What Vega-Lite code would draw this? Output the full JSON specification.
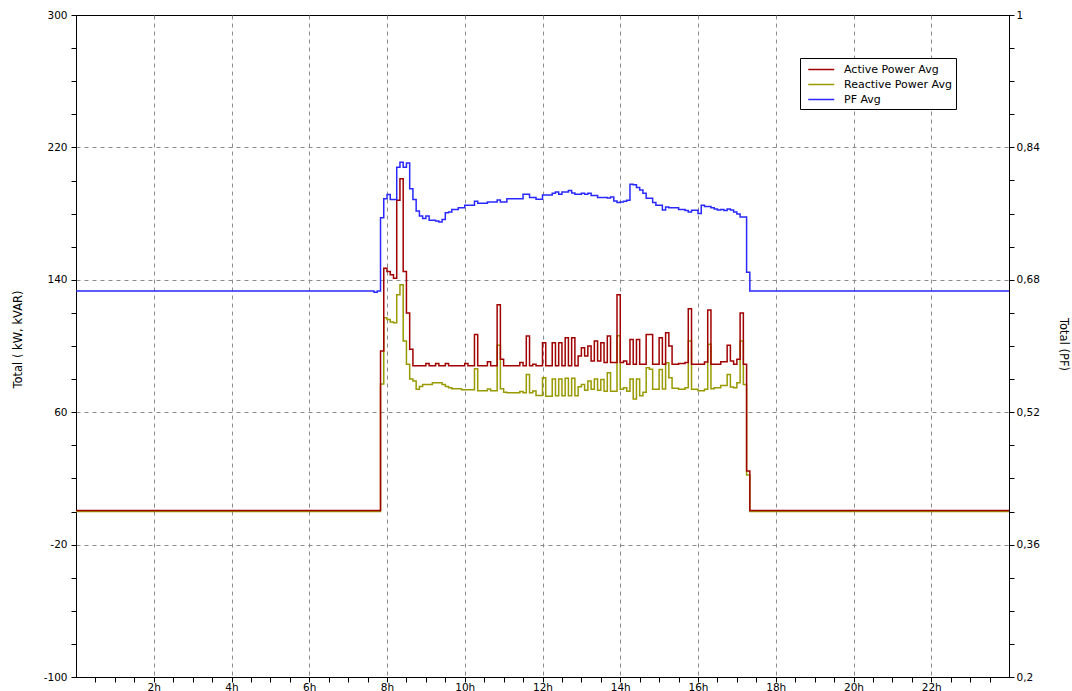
{
  "$schema": "https://vega.github.io/schema/vega-lite/v6.json",
  "width": 933,
  "height": 662,
  "autosize": {"type": "none"},
  "padding": {"left": 76, "top": 15, "right": 63, "bottom": 14},
  "background": "white",
  "config": {
    "font": "DejaVu Sans",
    "view": {"stroke": "black", "strokeWidth": 1},
    "axis": {
      "domainColor": "black",
      "tickColor": "black",
      "labelColor": "black",
      "titleColor": "black",
      "labelFontSize": 10.5,
      "titleFontSize": 11.5,
      "titleFontWeight": "normal",
      "gridColor": "#8a8a8a",
      "gridDash": [4, 4],
      "gridWidth": 1,
      "tickSize": 5,
      "labelPadding": 4,
      "labelOverlap": false
    }
  },
  "datasets": {
    "log": [
      {"min": 0, "active": 0.6, "reactive": 0, "pf": 0.6665},
      {"min": 460, "active": 0.6, "reactive": 0, "pf": 0.665},
      {"min": 465, "active": 0.6, "reactive": 0, "pf": 0.6665},
      {"min": 470, "active": 97, "reactive": 77, "pf": 0.755},
      {"min": 475, "active": 147, "reactive": 117, "pf": 0.778},
      {"min": 480, "active": 145, "reactive": 116, "pf": 0.783},
      {"min": 485, "active": 143, "reactive": 114.5, "pf": 0.777},
      {"min": 490, "active": 141, "reactive": 114, "pf": 0.777},
      {"min": 495, "active": 188, "reactive": 131, "pf": 0.816},
      {"min": 500, "active": 201, "reactive": 137, "pf": 0.822},
      {"min": 505, "active": 145, "reactive": 103, "pf": 0.816},
      {"min": 510, "active": 120, "reactive": 89, "pf": 0.821},
      {"min": 515, "active": 98, "reactive": 80, "pf": 0.79},
      {"min": 520, "active": 88, "reactive": 78.8, "pf": 0.777},
      {"min": 525, "active": 88, "reactive": 73.8, "pf": 0.763},
      {"min": 530, "active": 88, "reactive": 75.5, "pf": 0.757},
      {"min": 535, "active": 88, "reactive": 76.8, "pf": 0.754},
      {"min": 540, "active": 89.5, "reactive": 76.8, "pf": 0.757},
      {"min": 545, "active": 88, "reactive": 76.8, "pf": 0.752},
      {"min": 550, "active": 88, "reactive": 77.8, "pf": 0.752},
      {"min": 555, "active": 89.5, "reactive": 77.8, "pf": 0.751},
      {"min": 560, "active": 88, "reactive": 77.8, "pf": 0.75},
      {"min": 565, "active": 88, "reactive": 76.8, "pf": 0.753},
      {"min": 570, "active": 89.5, "reactive": 75.6, "pf": 0.761},
      {"min": 575, "active": 88, "reactive": 74.8, "pf": 0.762},
      {"min": 580, "active": 88, "reactive": 74.2, "pf": 0.765},
      {"min": 585, "active": 88, "reactive": 74.2, "pf": 0.765},
      {"min": 590, "active": 88, "reactive": 74.2, "pf": 0.767},
      {"min": 595, "active": 88, "reactive": 73.5, "pf": 0.767},
      {"min": 600, "active": 89.5, "reactive": 73.5, "pf": 0.77},
      {"min": 605, "active": 88, "reactive": 73.5, "pf": 0.77},
      {"min": 610, "active": 88, "reactive": 73.5, "pf": 0.77},
      {"min": 615, "active": 107, "reactive": 86.3, "pf": 0.775},
      {"min": 620, "active": 88, "reactive": 73, "pf": 0.7725},
      {"min": 625, "active": 88, "reactive": 73, "pf": 0.7725},
      {"min": 630, "active": 88, "reactive": 73, "pf": 0.7725},
      {"min": 635, "active": 90.5, "reactive": 74, "pf": 0.774},
      {"min": 640, "active": 88, "reactive": 73, "pf": 0.774},
      {"min": 645, "active": 88, "reactive": 73, "pf": 0.774},
      {"min": 650, "active": 125, "reactive": 100.4, "pf": 0.7765},
      {"min": 655, "active": 92, "reactive": 74.2, "pf": 0.774},
      {"min": 660, "active": 88, "reactive": 72, "pf": 0.774},
      {"min": 665, "active": 88, "reactive": 71.8, "pf": 0.778},
      {"min": 670, "active": 88, "reactive": 71.8, "pf": 0.778},
      {"min": 675, "active": 88, "reactive": 71.8, "pf": 0.778},
      {"min": 680, "active": 88, "reactive": 71.8, "pf": 0.778},
      {"min": 685, "active": 90, "reactive": 72.5, "pf": 0.778},
      {"min": 690, "active": 88, "reactive": 71.8, "pf": 0.7834},
      {"min": 695, "active": 106, "reactive": 82.8, "pf": 0.7834},
      {"min": 700, "active": 88, "reactive": 71.8, "pf": 0.7794},
      {"min": 705, "active": 89, "reactive": 72.8, "pf": 0.7794},
      {"min": 710, "active": 88, "reactive": 70.1, "pf": 0.7773},
      {"min": 715, "active": 88, "reactive": 70.1, "pf": 0.7773},
      {"min": 720, "active": 102, "reactive": 80.8, "pf": 0.7825},
      {"min": 725, "active": 88, "reactive": 69.7, "pf": 0.7825},
      {"min": 730, "active": 88, "reactive": 69.7, "pf": 0.7825},
      {"min": 735, "active": 102, "reactive": 80.1, "pf": 0.7846},
      {"min": 740, "active": 88, "reactive": 69.9, "pf": 0.786},
      {"min": 745, "active": 102, "reactive": 80.1, "pf": 0.7834},
      {"min": 750, "active": 88, "reactive": 69.9, "pf": 0.786},
      {"min": 755, "active": 105, "reactive": 80.5, "pf": 0.786},
      {"min": 760, "active": 88, "reactive": 69.9, "pf": 0.788},
      {"min": 765, "active": 105, "reactive": 80.5, "pf": 0.785},
      {"min": 770, "active": 88, "reactive": 69.9, "pf": 0.7834},
      {"min": 775, "active": 94, "reactive": 75.4, "pf": 0.7834},
      {"min": 780, "active": 99, "reactive": 76.8, "pf": 0.7846},
      {"min": 785, "active": 94, "reactive": 73.3, "pf": 0.7834},
      {"min": 790, "active": 100, "reactive": 78.9, "pf": 0.7846},
      {"min": 795, "active": 91, "reactive": 73.8, "pf": 0.782},
      {"min": 800, "active": 103, "reactive": 80.1, "pf": 0.782},
      {"min": 805, "active": 91, "reactive": 73.3, "pf": 0.7794},
      {"min": 810, "active": 102, "reactive": 79.8, "pf": 0.7794},
      {"min": 815, "active": 90, "reactive": 72.7, "pf": 0.7794},
      {"min": 820, "active": 106, "reactive": 83.9, "pf": 0.779},
      {"min": 825, "active": 90, "reactive": 72.7, "pf": 0.78},
      {"min": 830, "active": 90, "reactive": 72.7, "pf": 0.7752},
      {"min": 835, "active": 131, "reactive": 106.2, "pf": 0.7733},
      {"min": 840, "active": 90, "reactive": 73.8, "pf": 0.774},
      {"min": 845, "active": 91, "reactive": 74.8, "pf": 0.775},
      {"min": 850, "active": 89, "reactive": 72.7, "pf": 0.776},
      {"min": 855, "active": 104, "reactive": 80, "pf": 0.7955},
      {"min": 860, "active": 89, "reactive": 68, "pf": 0.795},
      {"min": 865, "active": 104, "reactive": 80, "pf": 0.7915},
      {"min": 870, "active": 89, "reactive": 70, "pf": 0.7885},
      {"min": 875, "active": 89, "reactive": 72, "pf": 0.7846},
      {"min": 880, "active": 107, "reactive": 86.8, "pf": 0.7785},
      {"min": 885, "active": 107, "reactive": 86, "pf": 0.7785},
      {"min": 890, "active": 89, "reactive": 73.8, "pf": 0.7733},
      {"min": 895, "active": 89, "reactive": 73.8, "pf": 0.77},
      {"min": 900, "active": 105, "reactive": 85.8, "pf": 0.77},
      {"min": 905, "active": 89, "reactive": 74, "pf": 0.7644},
      {"min": 910, "active": 108, "reactive": 89.9, "pf": 0.768},
      {"min": 915, "active": 100, "reactive": 80.8, "pf": 0.767},
      {"min": 920, "active": 89, "reactive": 74.5, "pf": 0.767},
      {"min": 925, "active": 89, "reactive": 74.5, "pf": 0.767},
      {"min": 930, "active": 89.5, "reactive": 73.8, "pf": 0.765},
      {"min": 935, "active": 89.5, "reactive": 73.8, "pf": 0.765},
      {"min": 940, "active": 90, "reactive": 74.8, "pf": 0.7636},
      {"min": 945, "active": 122.5, "reactive": 103, "pf": 0.762},
      {"min": 950, "active": 89, "reactive": 73.8, "pf": 0.764},
      {"min": 955, "active": 89, "reactive": 73.8, "pf": 0.764},
      {"min": 960, "active": 89, "reactive": 73, "pf": 0.76},
      {"min": 965, "active": 89, "reactive": 73, "pf": 0.77},
      {"min": 970, "active": 90.3, "reactive": 73.8, "pf": 0.7685},
      {"min": 975, "active": 121.7, "reactive": 101, "pf": 0.7685},
      {"min": 980, "active": 89, "reactive": 74.2, "pf": 0.767},
      {"min": 985, "active": 89, "reactive": 74.8, "pf": 0.7657},
      {"min": 990, "active": 89, "reactive": 74.8, "pf": 0.7644},
      {"min": 995, "active": 90.5, "reactive": 76.2, "pf": 0.765},
      {"min": 1000, "active": 90.5, "reactive": 76.2, "pf": 0.7636},
      {"min": 1005, "active": 100.4, "reactive": 82.8, "pf": 0.7657},
      {"min": 1010, "active": 91, "reactive": 75.2, "pf": 0.7644},
      {"min": 1015, "active": 89, "reactive": 74.8, "pf": 0.762},
      {"min": 1020, "active": 92, "reactive": 77.8, "pf": 0.7596},
      {"min": 1025, "active": 120, "reactive": 103, "pf": 0.756},
      {"min": 1030, "active": 89, "reactive": 76.8, "pf": 0.756},
      {"min": 1035, "active": 24.4, "reactive": 22, "pf": 0.689},
      {"min": 1040, "active": 0.6, "reactive": 0, "pf": 0.6665},
      {"min": 1440, "active": 0.6, "reactive": 0, "pf": 0.6665}
    ]
  },
  "data": {"name": "log"},
  "encoding": {
    "x": {
      "field": "min",
      "type": "quantitative",
      "scale": {"domain": [0, 1440], "nice": false, "zero": false},
      "axis": {
        "title": null,
        "values": [30, 60, 90, 120, 150, 180, 210, 240, 270, 300, 330, 360, 390, 420, 450, 480, 510, 540, 570, 600, 630, 660, 690, 720, 750, 780, 810, 840, 870, 900, 930, 960, 990, 1020, 1050, 1080, 1110, 1140, 1170, 1200, 1230, 1260, 1290, 1320, 1350, 1380, 1410],
        "labelExpr": "datum.value % 120 == 0 ? (datum.value / 60) + 'h' : ''",
        "labelPadding": 0,
        "grid": true,
        "gridOpacity": {"condition": {"test": "datum.value % 120 == 0", "value": 1}, "value": 0}
      }
    }
  },
  "layer": [
    {
      "transform": [{"fold": ["reactive", "active"], "as": ["series", "value"]}],
      "mark": {"type": "line", "interpolate": "step-after", "strokeWidth": 1.5},
      "encoding": {
        "y": {
          "field": "value",
          "type": "quantitative",
          "scale": {"domain": [-100, 300], "nice": false, "zero": false},
          "axis": {
            "orient": "left",
            "title": "Total ( kW, kVAR)",
            "values": [-100, -80, -60, -40, -20, 0, 20, 40, 60, 80, 100, 120, 140, 160, 180, 200, 220, 240, 260, 280, 300],
            "labelExpr": "(datum.value + 100) % 80 == 0 ? '' + datum.value : ''",
            "grid": true,
            "gridOpacity": {"condition": {"test": "(datum.value + 100) % 80 == 0 && datum.value > -100 && datum.value < 300", "value": 1}, "value": 0},
            "titleX": -58,
            "titleY": 324,
            "titleAngle": -90,
            "titleAlign": "center",
            "titleBaseline": "middle"
          }
        },
        "color": {
          "field": "series",
          "type": "nominal",
          "scale": {"domain": ["active", "reactive", "pf"], "range": ["#a00000", "#999900", "#2828ff"]},
          "legend": {
            "orient": "none",
            "legendX": 724,
            "legendY": 43,
            "title": null,
            "direction": "vertical",
            "symbolType": "M-0.5,0H3.5",
            "symbolSize": 169,
            "symbolStrokeWidth": 1.5,
            "labelFontSize": 11,
            "labelColor": "black",
            "labelOffset": 25,
            "rowPadding": 2,
            "padding": 4,
            "strokeColor": "black",
            "fillColor": "white",
            "labelExpr": "datum.label == 'active' ? 'Active Power Avg' : datum.label == 'reactive' ? 'Reactive Power Avg' : 'PF Avg'"
          }
        }
      }
    },
    {
      "mark": {"type": "line", "interpolate": "step-after", "strokeWidth": 1.5},
      "encoding": {
        "y": {
          "field": "pf",
          "type": "quantitative",
          "scale": {"domain": [0.2, 1], "nice": false, "zero": false},
          "axis": {
            "orient": "right",
            "title": "Total (PF)",
            "values": [0.2, 0.24, 0.28, 0.32, 0.36, 0.4, 0.44, 0.48, 0.52, 0.56, 0.6, 0.64, 0.68, 0.72, 0.76, 0.8, 0.84, 0.88, 0.92, 0.96, 1],
            "labelExpr": "abs((datum.value - 0.2) / 0.16 - round((datum.value - 0.2) / 0.16)) < 0.01 ? replace(format(datum.value, '.2~f'), '.', ',') : ''",
            "labelPadding": 2,
            "grid": false,
            "titleX": 53,
            "titleY": 329,
            "titleAngle": 90,
            "titleAlign": "center",
            "titleBaseline": "middle"
          }
        },
        "color": {"datum": "pf"}
      }
    }
  ],
  "resolve": {"scale": {"y": "independent"}, "axis": {"y": "independent"}}
}
